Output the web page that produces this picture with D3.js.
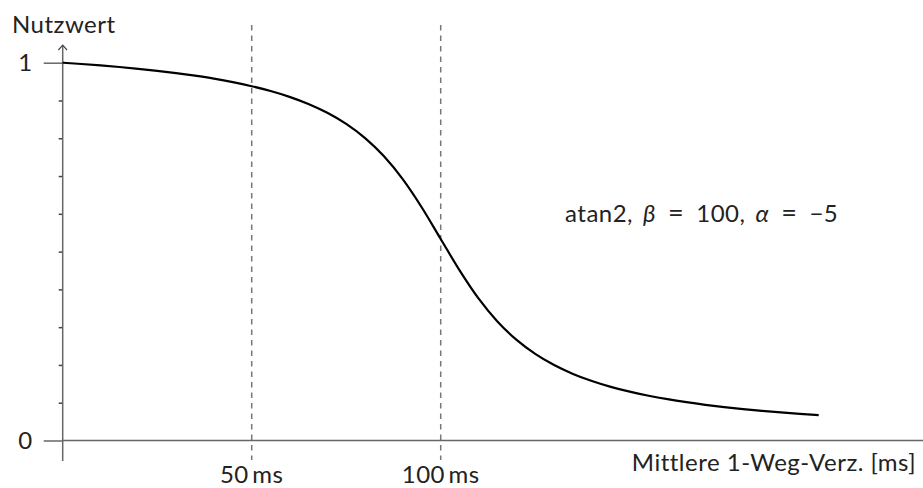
<!DOCTYPE html>
<html>
<head>
<meta charset="utf-8">
<script src="https://cdn.jsdelivr.net/npm/d3@7"></script>
<style>
  html, body { margin: 0; padding: 0; background: #fff; }
  svg { display: block; }
  text { font-family: Lato, "Open Sans", sans-serif; fill: #222; letter-spacing: 0.5px; }
</style>
</head>
<body>
<svg id="chart" width="923" height="488"></svg>
<script>
// Delay in ms (x) and utility value (y) of the curve
const delays = [0, 5, 10, 15, 20, 25, 30, 35, 40, 45, 50, 55, 60, 65, 70, 75, 80, 85, 90, 95,
  100, 105, 110, 115, 120, 125, 130, 135, 140, 145, 150, 155, 160, 165, 170, 175, 180, 185, 190, 195, 200];
const utility = [1.0000, 0.9966, 0.9928, 0.9886, 0.9838, 0.9785, 0.9725, 0.9656, 0.9578, 0.9486,
  0.9378, 0.9250, 0.9096, 0.8907, 0.8673, 0.8379, 0.8003, 0.7521, 0.6910, 0.6167,
  0.5335, 0.4503, 0.3760, 0.3150, 0.2668, 0.2292, 0.1997, 0.1763, 0.1575, 0.1420,
  0.1292, 0.1185, 0.1093, 0.1014, 0.0945, 0.0885, 0.0832, 0.0785, 0.0743, 0.0705, 0.0670];
const markerDelays = [50, 100];
const markerLabels = ["50\u2009ms", "100\u2009ms"];
const yMajorTicks = [0, 1];
const yMinorTicks = [0.1, 0.2, 0.3, 0.4, 0.5, 0.6, 0.7, 0.8, 0.9];

const svg = d3.select("#chart");
const W = 923;
const fs = "24px";

const x = d3.scaleLinear().domain([0, 200]).range([62.7, 818.7]);
const y = d3.scaleLinear().domain([0, 1]).range([440.5, 62.7]);

const axisColor = "#666";

// Dashed marker lines
svg.append("g").selectAll("line")
  .data(markerDelays).join("line")
  .attr("x1", d => x(d)).attr("x2", d => x(d))
  .attr("y1", 25).attr("y2", 460)
  .attr("stroke", "#777").attr("stroke-width", 1.5)
  .attr("stroke-dasharray", "5.5,5");

// x axis line
svg.append("line")
  .attr("x1", x(0)).attr("x2", W)
  .attr("y1", y(0)).attr("y2", y(0))
  .attr("stroke", axisColor).attr("stroke-width", 1.5);

// y axis with major ticks
const yAxis = svg.append("g")
  .attr("transform", `translate(${x(0)},0)`)
  .call(d3.axisLeft(y).tickValues(yMajorTicks).tickSize(19).tickPadding(11)
    .tickFormat(d3.format("d")));
yAxis.select(".domain").remove();
yAxis.selectAll(".tick line").attr("stroke", axisColor).attr("stroke-width", 1.5);
yAxis.selectAll(".tick text")
  .style("font-size", fs).attr("fill", "#222")
  .attr("font-family", "Lato, 'Open Sans', sans-serif");

// minor ticks
const yMinor = svg.append("g")
  .attr("transform", `translate(${x(0)},0)`)
  .call(d3.axisLeft(y).tickValues(yMinorTicks).tickSize(4).tickFormat(""));
yMinor.select(".domain").remove();
yMinor.selectAll(".tick line").attr("stroke", "#444").attr("stroke-width", 1.5);

// y axis line with arrow
svg.append("line")
  .attr("x1", x(0)).attr("x2", x(0))
  .attr("y1", 461).attr("y2", 45.5)
  .attr("stroke", axisColor).attr("stroke-width", 1.5);
svg.append("path")
  .attr("d", `M${x(0) - 4.3},${50} L${x(0)},${45.2} L${x(0) + 4.3},${50}`)
  .attr("fill", "none").attr("stroke", "#444").attr("stroke-width", 1.2);

// axis titles
svg.append("text").attr("x", 12).attr("y", 33)
  .style("font-size", fs).text("Nutzwert");
svg.append("text").attr("x", 916).attr("y", 471).attr("text-anchor", "end")
  .style("font-size", fs).text("Mittlere 1-Weg-Verz. [ms]");

// marker labels
svg.append("g").selectAll("text")
  .data(markerDelays).join("text")
  .attr("x", d => x(d)).attr("y", 483).attr("text-anchor", "middle")
  .style("font-size", fs)
  .text((d, i) => markerLabels[i]);

// curve
const line = d3.line()
  .x((d, i) => x(delays[i]))
  .y(d => y(d))
  .curve(d3.curveMonotoneX);
svg.append("path")
  .datum(utility)
  .attr("d", line)
  .attr("fill", "none").attr("stroke", "#000").attr("stroke-width", 2.2);

// annotation with math-style spacing
const note = svg.append("text").attr("x", 565).attr("y", 222).style("font-size", fs);
note.append("tspan").text("atan2,");
note.append("tspan").attr("dx", 10).attr("font-style", "italic").text("\u03B2");
note.append("tspan").attr("dx", 12).attr("font-size", "27px").text("=");
note.append("tspan").attr("dx", 12).text("100,");
note.append("tspan").attr("dx", 10).attr("font-style", "italic").text("\u03B1");
note.append("tspan").attr("dx", 12).attr("font-size", "27px").text("=");
note.append("tspan").attr("dx", 12).text("\u22125");
</script>
</body>
</html>
